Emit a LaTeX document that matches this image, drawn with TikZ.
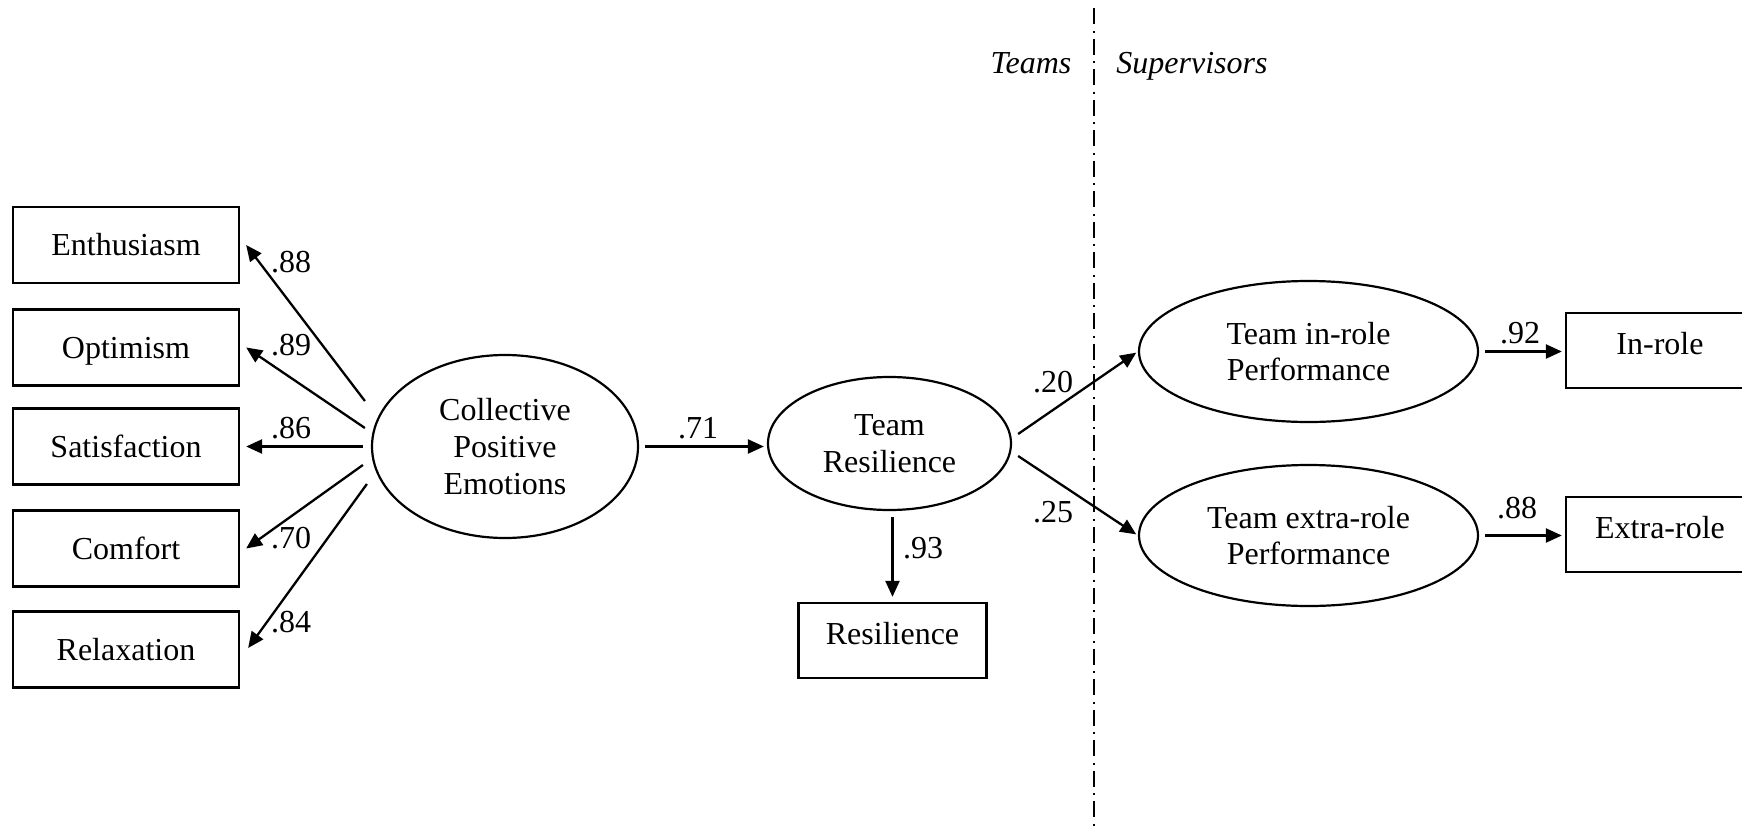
\documentclass[tikz,border=0pt]{standalone}
\usepackage{fontspec}
\setmainfont{Liberation Serif}
\usetikzlibrary{shapes.geometric,arrows.meta}
\begin{document}
\begin{tikzpicture}[x=0.5pt,y=-0.5pt,
  every node/.style={font=\fontsize{16}{18.3}\selectfont},
  obs/.style={draw,line width=1.15pt,rectangle,minimum width=113pt,minimum height=38pt,inner sep=0pt,text height=10.9pt,text depth=0.4pt},
  obsr/.style={draw,line width=1.15pt,rectangle,minimum width=94pt,minimum height=37.5pt,inner sep=0pt,text height=10.9pt,text depth=6.9pt},
  lat/.style={draw,line width=1.1pt,ellipse,inner sep=0pt,align=center},
  arr/.style={line width=1.15pt,-{Triangle[length=8pt,width=7pt]}},
  lbl/.style={inner sep=0pt},
  divider/.style={line width=0.9pt,dash pattern=on 8pt off 3.25pt on 1pt off 3pt}
]
\clip (0,0) rectangle (1742,830);
\fill[white] (0,0) rectangle (1742,830);

% observed indicators (left)
\node[obs] (ent) at (126,245) {Enthusiasm};
\node[obs] (opt) at (126,347.5) {Optimism};
\node[obs] (sat) at (126,446.5) {Satisfaction};
\node[obs] (com) at (126,548.5) {Comfort};
\node[obs] (rel) at (126,649.5) {Relaxation};

% latent variables
\node[lat,minimum width=133pt,minimum height=91.5pt] (cpe) at (505,446.5) {Collective\\Positive\\Emotions};
\node[lat,minimum width=121.5pt,minimum height=66.5pt] (tr) at (889.5,443.5) {Team\\Resilience};
\node[lat,minimum width=169.5pt,minimum height=70.5pt] (tip) at (1308.5,351.5) {Team in-role\\Performance};
\node[lat,minimum width=169.5pt,minimum height=70.5pt] (tep) at (1308.5,535.5) {Team extra-role\\Performance};

% other observed
\node[obsr] (res) at (892.5,640.5) {Resilience};
\node[obsr] (inr) at (1660,350.5) {In-role};
\node[obsr] (exr) at (1660,534.5) {Extra-role};

% divider
\coordinate (dtop) at (1094,8);
\coordinate (dbot) at (1094,830);
\draw[divider] (dtop) -- (dbot);
\node[lbl,anchor=base] (teams) at (1031,73) {\itshape Teams};
\node[lbl,anchor=base] (sup) at (1192,73) {\itshape Supervisors};

% loadings left
\draw[arr] ([shift={(-6,-45.5)}]cpe.west) -- ([xshift=3pt]ent.east);
\draw[arr] ([shift={(-6,-18.5)}]cpe.west) -- ([xshift=3pt]opt.east);
\draw[arr] ([shift={(-8,0)}]cpe.west) -- ([xshift=3pt]sat.east);
\draw[arr] ([shift={(-8,18.5)}]cpe.west) -- ([xshift=3pt]com.east);
\draw[arr] ([shift={(-4,37.5)}]cpe.west) -- ([shift={(8,-1.5)}]rel.east);

\node[lbl] (l1) at (291,262) {.88};
\node[lbl] (l2) at (291,345) {.89};
\node[lbl] (l3) at (291,428) {.86};
\node[lbl] (l4) at (291,538) {.70};
\node[lbl] (l5) at (291,622) {.84};

% structural paths
\draw[arr] ([xshift=3pt]cpe.east) -- ([xshift=-1.5pt]cpe.east -| tr.west);
\node[lbl] (l6) at (698,428) {.71};

\draw[arr,shorten <=3pt,shorten >=2.5pt] (res.north |- tr.south) -- (res.north);
\node[lbl] (l7) at (923,548) {.93};

\draw[arr,shorten >=1pt] ([shift={(6,-9.5)}]tr.east) -- (tip.west);
\draw[arr,shorten >=1pt] ([shift={(6,12.5)}]tr.east) -- (tep.west);
\node[lbl] (l8) at (1053,382) {.20};
\node[lbl] (l9) at (1053,512) {.25};

\draw[arr] ([xshift=3pt]tip.east) -- ([xshift=-1.5pt]tip.east -| inr.west);
\draw[arr] ([xshift=3pt]tep.east) -- ([xshift=-1.5pt]tep.east -| exr.west);
\node[lbl] (l10) at (1520,333) {.92};
\node[lbl] (l11) at (1517,508) {.88};
\end{tikzpicture}
\end{document}
